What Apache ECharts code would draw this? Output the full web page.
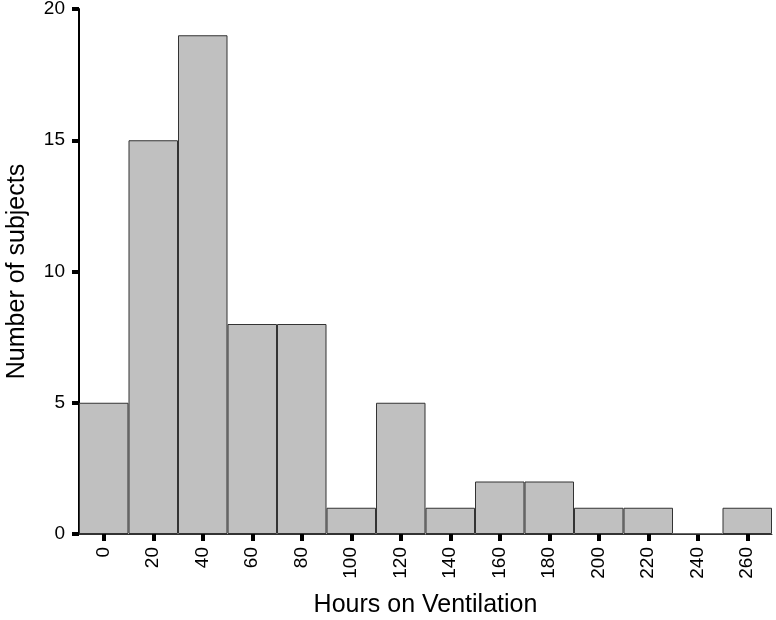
<!DOCTYPE html>
<html><head><meta charset="utf-8">
<script src="https://cdn.jsdelivr.net/npm/echarts@6/dist/echarts.min.js"></script>
<style>html,body{margin:0;padding:0;background:#fff}#c{width:776px;height:620px}</style>
</head><body><div id="c"></div>
<script>
const categories = ['0','20','40','60','80','100','120','140','160','180','200','220','240','260'];
const counts = [5,15,19,8,8,1,5,1,2,2,1,1,0,1];
const yTicks = {min:0, max:20, interval:5};
const xTitle = 'Hours on Ventilation';
const yTitle = 'Number of subjects';

const chart = echarts.init(document.getElementById('c'), null, {renderer:'canvas'});
const font = "'Liberation Sans', Arial, sans-serif";
chart.setOption({
  animation:false,
  backgroundColor:'#fff',
  grid:{left:79, right:4, top:9, bottom:86, containLabel:false, outerBoundsMode:'none'},
  xAxis:{
    type:'category', data:categories,
    name:xTitle, nameLocation:'middle', nameGap:59,
    nameTextStyle:{fontFamily:font, fontSize:25, color:'#000'},
    axisLine:{show:true, lineStyle:{color:'#333', width:1}},
    axisTick:{show:true, alignWithLabel:true, length:7, lineStyle:{color:'#000', width:4}},
    axisLabel:{rotate:90, margin:13, fontFamily:font, fontSize:19, color:'#000'},
    splitLine:{show:false}
  },
  yAxis:{
    type:'value', min:yTicks.min, max:yTicks.max, interval:yTicks.interval,
    name:yTitle, nameLocation:'middle', nameGap:49,
    nameTextStyle:{fontFamily:font, fontSize:25, color:'#000'},
    axisLine:{show:true, lineStyle:{color:'#000', width:2}},
    axisTick:{show:true, length:7, lineStyle:{color:'#000', width:4}},
    axisLabel:{margin:14, fontFamily:font, fontSize:19, color:'#000'},
    splitLine:{show:false}
  },
  series:[{
    type:'bar', data:counts, barCategoryGap:'0%',
    itemStyle:{color:'#c0c0c0', borderColor:'#333', borderWidth:1}
  }]
});
</script></body></html>
